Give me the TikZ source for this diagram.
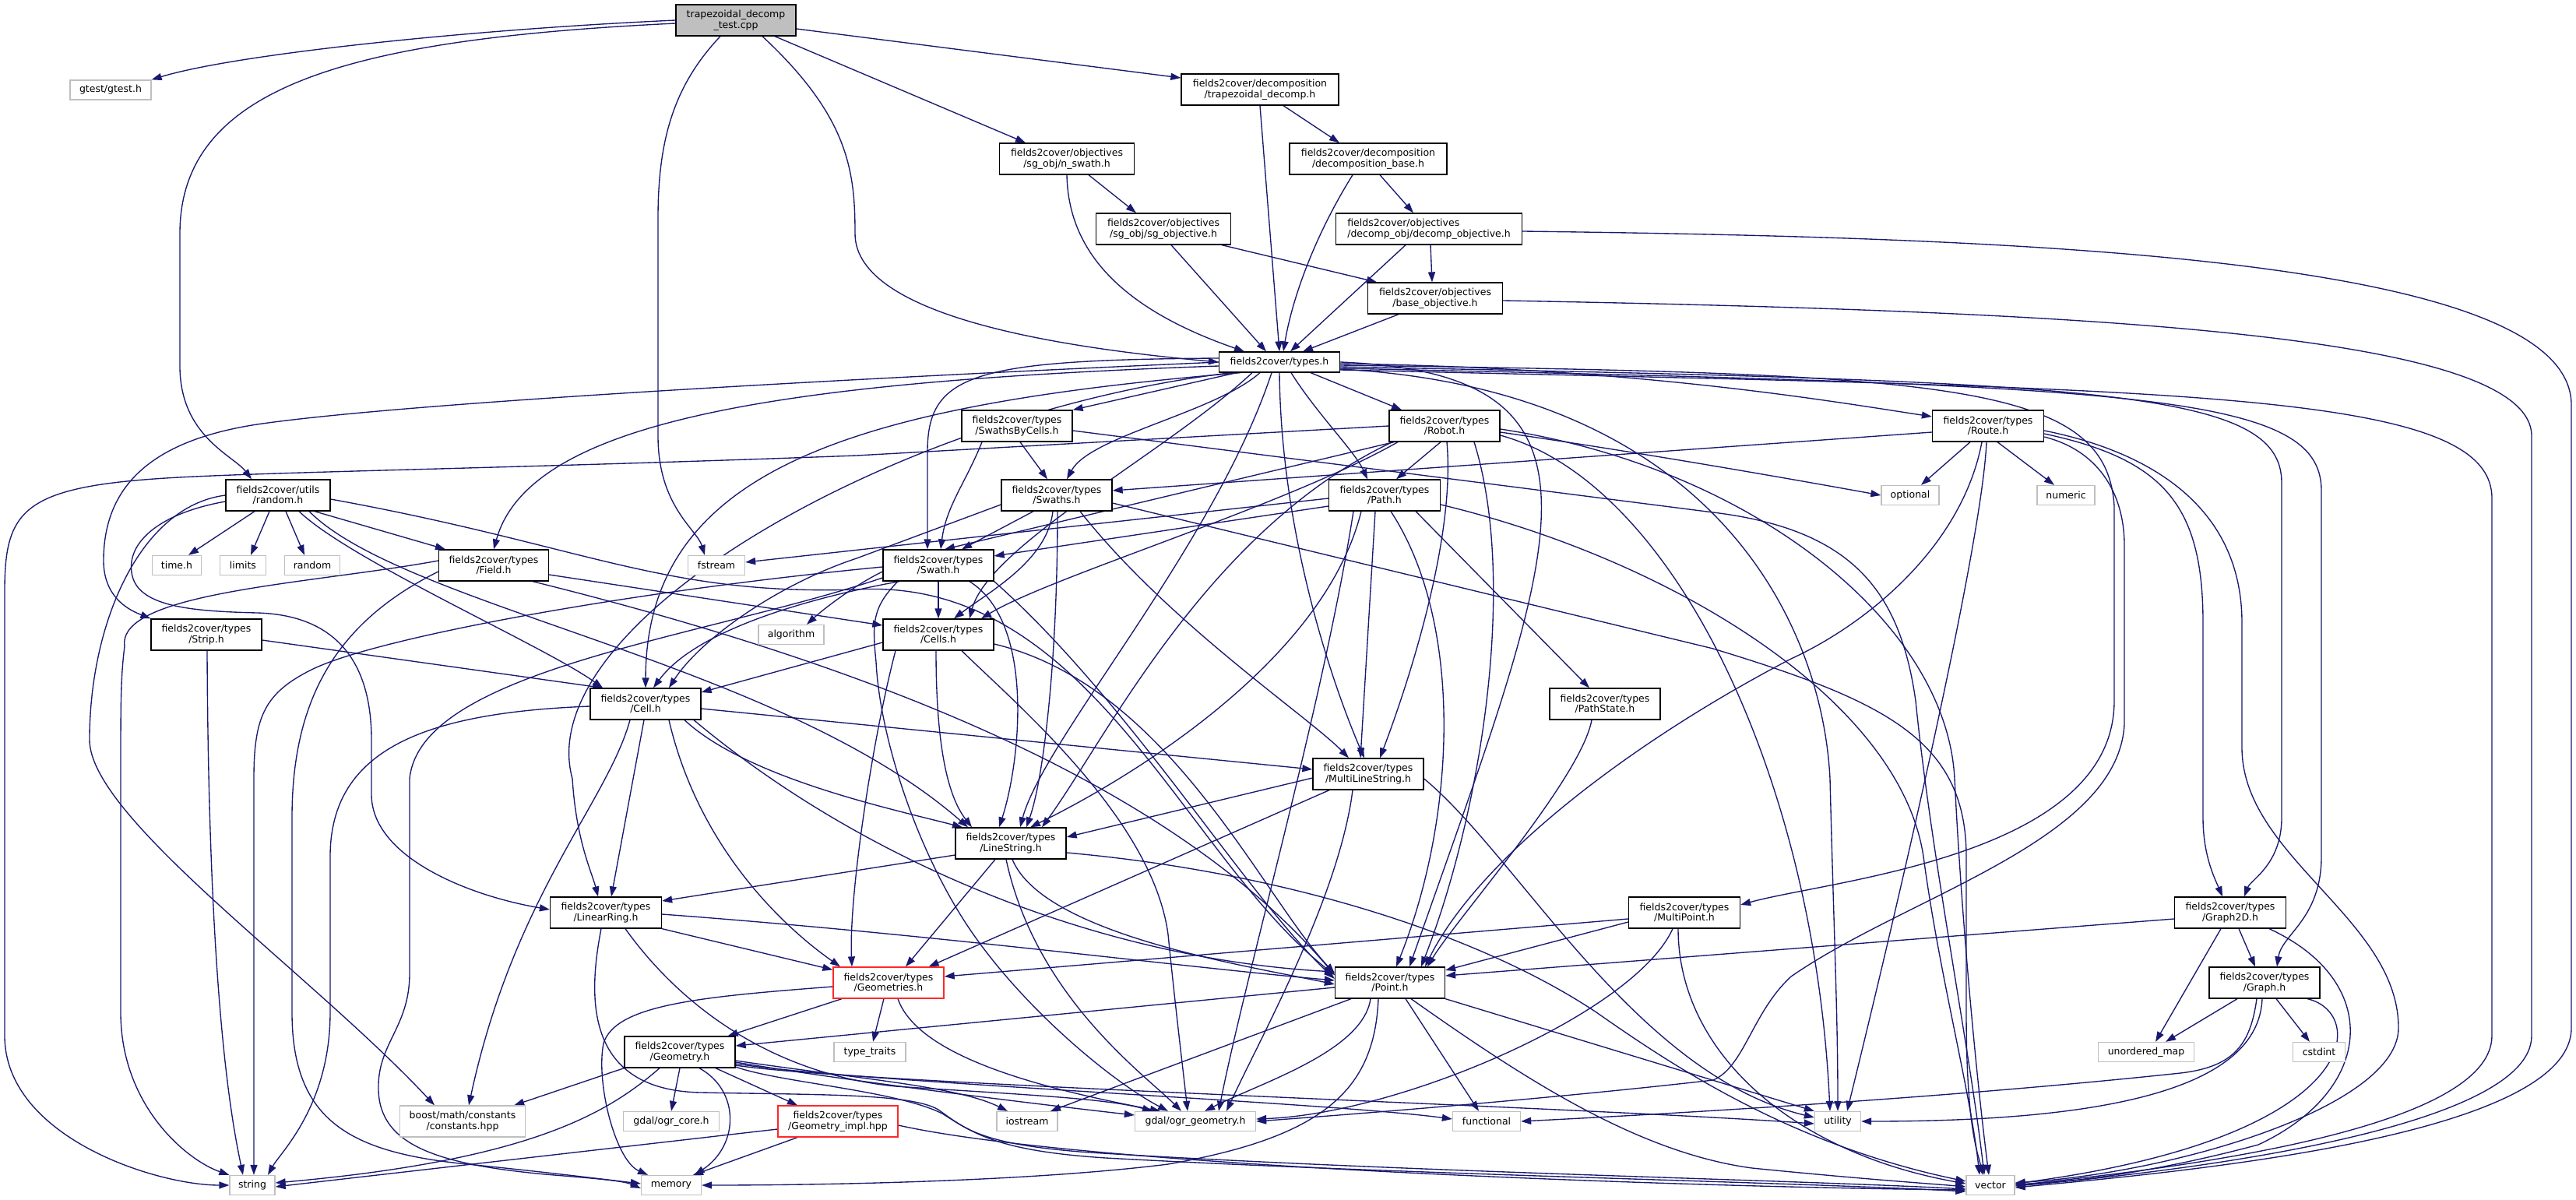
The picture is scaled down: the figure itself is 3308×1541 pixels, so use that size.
\documentclass[tikz,border=0pt]{standalone}
\usepackage{fontspec}
\setmainfont{DejaVu Sans}
\usetikzlibrary{arrows.meta}
\definecolor{eblue}{RGB}{25,25,112}
\definecolor{sysgray}{RGB}{191,191,191}
\definecolor{rootfill}{RGB}{191,191,191}
\definecolor{redb}{RGB}{255,40,40}
\pgfdeclarelayer{bg}
\pgfsetlayers{bg,main}
\tikzset{
  hdr/.style={draw=black, fill=white, line width=1.3pt, inner sep=0pt, align=center,
    font=\fontsize{12.5}{13.5}\selectfont, minimum width=142pt, minimum height=40pt},
  sys/.style={draw=sysgray, fill=white, line width=1.3pt, inner sep=0pt, align=center,
    font=\fontsize{12.5}{13.5}\selectfont, minimum height=25pt},
  redh/.style={hdr, draw=redb},
  edg/.style={draw=eblue, line width=1.35pt, -{Triangle[length=13pt,width=9pt]}},
}
\begin{document}
\begin{tikzpicture}[x=1pt,y=-1pt]
\useasboundingbox (0,0) rectangle (3308,1541);
% ---------------- nodes
\node[hdr, fill=rootfill, minimum width=154pt] (test) at (945,26) {trapezoidal\_decomp\\\_test.cpp};
\node[sys, minimum width=104pt] (gtest) at (142,115.5) {gtest/gtest.h};
\node[hdr, minimum width=202pt] (trap) at (1618,115) {fields2cover/decomposition\\/trapezoidal\_decomp.h};
\node[hdr, minimum width=173pt] (nswath) at (1370,204) {fields2cover/objectives\\/sg\_obj/n\_swath.h};
\node[hdr, minimum width=202pt] (dbase) at (1757,204) {fields2cover/decomposition\\/decomposition\_base.h};
\node[hdr, minimum width=173pt] (sgobj) at (1494,294) {fields2cover/objectives\\/sg\_obj/sg\_objective.h};
\node[hdr, minimum width=239pt, align=left] (dobj) at (1835,294) {fields2cover/objectives\\/decomp\_obj/decomp\_objective.h};
\node[hdr, minimum width=173pt] (bobj) at (1843,383) {fields2cover/objectives\\/base\_objective.h};
\node[hdr, minimum width=155pt, minimum height=26pt] (types) at (1643,465) {fields2cover/types.h};
\node[hdr, minimum width=134pt] (randomh) at (357,636) {fields2cover/utils\\/random.h};
\node[sys, minimum width=63pt] (timeh) at (227,726) {time.h};
\node[sys, minimum width=59pt] (limits) at (312,726) {limits};
\node[sys, minimum width=71pt] (randomstd) at (401,726) {random};
\node[hdr, minimum width=141pt] (field) at (634,726) {fields2cover/types\\/Field.h};
\node[sys, minimum width=73pt] (fstream) at (920,726) {fstream};
\node[hdr] (strip) at (265,815) {fields2cover/types\\/Strip.h};
\node[sys, minimum width=84pt] (algorithm) at (1016,815) {algorithm};
\node[hdr] (cell) at (829,904) {fields2cover/types\\/Cell.h};
\node[hdr] (sbc) at (1306,547) {fields2cover/types\\/SwathsByCells.h};
\node[hdr] (robot) at (1855,547) {fields2cover/types\\/Robot.h};
\node[hdr, minimum width=143pt] (route) at (2553,547) {fields2cover/types\\/Route.h};
\node[sys, minimum width=74pt] (optional) at (2453,636) {optional};
\node[sys, minimum width=74pt] (numeric) at (2653,636) {numeric};
\node[hdr] (swaths) at (1357,636) {fields2cover/types\\/Swaths.h};
\node[hdr, minimum width=143pt] (path) at (1778,636) {fields2cover/types\\/Path.h};
\node[hdr] (swath) at (1205,726) {fields2cover/types\\/Swath.h};
\node[hdr] (cells) at (1205,815) {fields2cover/types\\/Cells.h};
\node[hdr] (pathstate) at (2061,904) {fields2cover/types\\/PathState.h};
\node[hdr] (mls) at (1757,994) {fields2cover/types\\/MultiLineString.h};
\node[hdr, minimum width=143pt] (linearring) at (778,1172) {fields2cover/types\\/LinearRing.h};
\node[hdr] (linestring) at (1298,1083) {fields2cover/types\\/LineString.h};
\node[hdr, minimum width=143pt] (multipoint) at (2163,1172) {fields2cover/types\\/MultiPoint.h};
\node[hdr, minimum width=143pt] (graph2d) at (2864,1172) {fields2cover/types\\/Graph2D.h};
\node[redh] (geometries) at (1141,1262) {fields2cover/types\\/Geometries.h};
\node[hdr, minimum width=141pt] (point) at (1785,1262) {fields2cover/types\\/Point.h};
\node[hdr] (graph) at (2908,1262) {fields2cover/types\\/Graph.h};
\node[hdr] (geometry) at (873,1351) {fields2cover/types\\/Geometry.h};
\node[sys, minimum width=92pt] (typetraits) at (1117,1351) {type\_traits};
\node[sys, minimum width=123pt] (unorderedmap) at (2756,1351) {unordered\_map};
\node[sys, minimum width=67pt] (cstdint) at (2978,1351) {cstdint};
\node[sys, minimum width=161pt, minimum height=40pt] (boost) at (594,1440) {boost/math/constants\\/constants.hpp};
\node[sys, minimum width=123pt] (ogrcore) at (862,1440) {gdal/ogr\_core.h};
\node[redh, minimum width=154pt] (geomimpl) at (1076,1440) {fields2cover/types\\/Geometry\_impl.hpp};
\node[sys, minimum width=78pt] (iostream) at (1319,1440) {iostream};
\node[sys, minimum width=155pt] (ogrgeom) at (1535,1440) {gdal/ogr\_geometry.h};
\node[sys, minimum width=87pt] (functional) at (1909,1440) {functional};
\node[sys, minimum width=59pt] (utility) at (2360,1440) {utility};
\node[sys, minimum width=58pt] (string) at (324,1522) {string};
\node[sys, minimum width=77pt] (memory) at (862,1522) {memory};
\node[sys, minimum width=62pt] (vector) at (2556,1522) {vector};
% ---------------- edges
\begin{pgfonlayer}{bg}
\fill[white] (0,0) rectangle (3308,1541);
% test
\draw[edg] (test.west) .. controls (600,38) and (300,70) .. (gtest.north east);
\draw[edg] ([yshift=-4pt]test.west) .. controls (450,50) and (231,110) .. (231,300) -- (231,470) .. controls (231,560) and (300,585) .. ([xshift=-34pt]randomh.north);
\draw[edg] ([xshift=-20pt]test.south) .. controls (865,110) and (845,180) .. (845,280) -- (845,560) .. controls (845,650) and (895,680) .. ([xshift=-15pt]fstream.north);
\draw[edg] ([xshift=34pt]test.south) .. controls (1090,150) and (1098,220) .. (1098,300) .. controls (1098,410) and (1380,448) .. (types.west);
\draw[edg] ([xshift=50pt]test.south) -- ([xshift=-53pt]nswath.north);
\draw[edg] ([yshift=-11pt]test.east) -- ([yshift=15pt]trap.west);
% objectives / decomposition
\draw[edg] ([xshift=30pt]trap.south) -- ([xshift=-37pt]dbase.north);
\draw[edg] (trap.south) -- (types.north);
\draw[edg] ([xshift=28pt]nswath.south) -- ([xshift=-35pt]sgobj.north);
\draw[edg] (nswath.south) .. controls (1372,330) and (1450,400) .. ([xshift=-45pt]types.north);
\draw[edg] ([xshift=75pt]sgobj.south) -- ([xshift=-75pt]bobj.north);
\draw[edg] ([xshift=10pt]sgobj.south) -- ([xshift=-17pt]types.north);
\draw[edg] ([xshift=15pt]dbase.south) -- ([xshift=-20pt]dobj.north);
\draw[edg] ([xshift=-20pt]dbase.south) .. controls (1690,300) and (1660,380) .. ([xshift=5pt]types.north);
\draw[edg] ([xshift=2pt]dobj.south) -- ([xshift=-4pt]bobj.north);
\draw[edg] ([xshift=-30pt]dobj.south) -- ([xshift=14pt]types.north);
\draw[edg] ([yshift=-3pt]dobj.east) .. controls (2600,305) and (3302,330) .. (3302,520) -- (3302,1320) .. controls (3302,1460) and (2800,1505) .. ([yshift=-3pt]vector.east);
\draw[edg] ([xshift=-47pt]bobj.south) -- ([xshift=30pt]types.north);
\draw[edg] ([yshift=-3pt]bobj.east) .. controls (2700,400) and (3251,430) .. (3251,560) -- (3251,1330) .. controls (3251,1450) and (2800,1505) .. ([yshift=-1pt]vector.east);
% types.h
\draw[edg] (types.west) .. controls (1000,490) and (500,520) .. (330,545) .. controls (200,565) and (133,620) .. (133,720) .. controls (133,770) and (170,785) .. (strip.north west);
\draw[edg] ([yshift=-5pt]types.west) .. controls (1000,490) and (680,540) .. (field.north);
\draw[edg] ([xshift=-50pt]types.south) .. controls (1100,520) and (830,600) .. (cell.north);
\draw[edg] ([xshift=-35pt]types.south) .. controls (1500,580) and (1270,700) .. ([xshift=40pt]cells.north);
\draw[edg] ([yshift=5pt]types.west) .. controls (1250,462) and (1191,480) .. (1191,580) -- ([xshift=-14pt]swath.north);
\draw[edg] ([xshift=-25pt]types.south) .. controls (1560,530) and (1400,560) .. ([xshift=13pt]swaths.north);
\draw[edg] ([xshift=-55pt]types.south) -- (sbc.north east);
\draw[edg] ([xshift=40pt]types.south) -- ([xshift=-55pt]robot.north);
\draw[edg] ([xshift=15pt]types.south) .. controls (1690,530) and (1740,580) .. ([xshift=-22pt]path.north);
\draw[edg] ([yshift=-2pt]types.east) .. controls (2100,472) and (2350,515) .. ([yshift=12pt]route.west);
\draw[edg] ([xshift=-10pt]types.south) .. controls (1560,700) and (1340,950) .. ([xshift=12pt]linestring.north);
\draw[edg] ([xshift=-62pt]types.south) .. controls (1150,530) and (680,800) .. (735,1000) .. controls (740,1080) and (760,1120) .. ([xshift=-10pt]linearring.north);
\draw[edg] (types.south) .. controls (1645,700) and (1720,900) .. ([xshift=-5pt]mls.north);
\draw[edg] (types.east) .. controls (2100,480) and (2000,700) .. ([xshift=25pt]point.north);
\draw[edg] ([yshift=-4pt]types.east) .. controls (2500,480) and (2705,490) .. (2715,650) -- (2715,900) .. controls (2715,1100) and (2350,1130) .. ([yshift=10pt]multipoint.east);
\draw[edg] ([yshift=-6pt]types.east) .. controls (2700,490) and (2930,500) .. (2930,620) -- (2930,1050) .. controls (2930,1110) and (2890,1130) .. ([xshift=18pt]graph2d.north);
\draw[edg] ([yshift=-8pt]types.east) .. controls (2750,495) and (2981,505) .. (2981,630) -- (2981,1100) .. controls (2981,1180) and (2930,1200) .. ([xshift=16pt]graph.north);
\draw[edg] ([yshift=-10pt]types.east) .. controls (2800,500) and (3200,500) .. (3200,640) -- (3200,1330) .. controls (3200,1450) and (2800,1500) .. (vector.east);
\draw[edg] ([yshift=-9pt]types.east) .. controls (2200,500) and (2340,800) .. (2350,1000) .. controls (2355,1200) and (2360,1300) .. (utility.north);
% random.h
\draw[edg] ([xshift=-30pt]randomh.south) -- ([xshift=15pt]timeh.north);
\draw[edg] ([xshift=-11pt]randomh.south) -- ([xshift=10pt]limits.north);
\draw[edg] ([xshift=10pt]randomh.south) -- ([xshift=-10pt]randomstd.north);
\draw[edg] ([xshift=47pt]randomh.south) -- ([xshift=-62pt]field.north);
\draw[edg] ([xshift=27pt]randomh.south) .. controls (450,720) and (700,830) .. ([xshift=-55pt]cell.north);
\draw[edg] ([xshift=40pt]randomh.south) .. controls (520,780) and (1000,850) .. ([xshift=-55pt]linestring.north);
\draw[edg] ([yshift=-5pt]randomh.east) .. controls (750,700) and (850,765) .. (1100,757) .. controls (1400,740) and (1520,1100) .. ([yshift=10pt]point.west);
\draw[edg] (randomh.west) .. controls (180,650) and (115,800) .. (115,950) .. controls (115,1050) and (400,1250) .. ([xshift=-36pt]boost.north);
\draw[edg] ([yshift=-8pt]randomh.west) .. controls (200,660) and (160,700) .. (170,740) .. controls (180,780) and (250,785) .. (330,787) .. controls (440,790) and (477,860) .. (477,950) -- (477,1020) .. controls (477,1100) and (600,1150) .. ([yshift=4pt]linearring.west);
% Field.h
\draw[edg] ([yshift=6pt]field.west) .. controls (400,750) and (150,760) .. (160,830) .. controls (155,870) and (155,900) .. (155,1000) -- (155,1300) .. controls (155,1420) and (240,1490) .. (string.north west);
\draw[edg] ([yshift=-8pt]field.west) .. controls (430,800) and (375,900) .. (375,1050) -- (375,1300) .. controls (375,1440) and (450,1480) .. (600,1495) .. controls (700,1505) and (780,1515) .. ([yshift=2pt]memory.west);
\draw[edg] ([yshift=-12pt]field.east) -- ([yshift=12pt]cells.west);
\draw[edg] ([xshift=50pt]field.south) .. controls (1100,850) and (1500,1000) .. ([yshift=10pt]point.west);
% Strip.h
\draw[edg] ([yshift=-7pt]strip.east) -- ([xshift=-55pt]cell.north);
\draw[edg] ([xshift=1pt]strip.south) .. controls (268,1300) and (300,1450) .. ([xshift=-12pt]string.north);
% SwathsByCells.h
\draw[edg] ([xshift=4pt]sbc.south) -- ([xshift=-12pt]swaths.north);
\draw[edg] ([xshift=-45pt]sbc.south) .. controls (1240,620) and (1215,650) .. ([xshift=3pt]swath.north);
\draw[edg] ([yshift=-6pt]sbc.east) -- (2200,658) .. controls (2380,680) and (2440,760) .. (2460,900) .. controls (2480,1100) and (2530,1350) .. ([xshift=-8pt]vector.north);
% Robot.h
\draw[edg] (robot.west) -- (1100,585) .. controls (700,600) and (400,605) .. (250,612) .. controls (30,622) and (6,650) .. (6,760) -- (6,1330) .. controls (6,1460) and (200,1522) .. (string.west);
\draw[edg] ([yshift=-8pt]robot.east) .. controls (2100,580) and (2300,615) .. (optional.west);
\draw[edg] ([xshift=-5pt]robot.south) -- ([xshift=15pt]path.north);
\draw[edg] ([xshift=-65pt]robot.south) -- ([xshift=8pt]swath.north);
\draw[edg] ([xshift=-60pt]robot.south) .. controls (1650,650) and (1350,740) .. ([xshift=55pt]cells.north);
\draw[edg] ([xshift=-67pt]robot.south) .. controls (1550,680) and (1420,950) .. ([xshift=40pt]linestring.north);
\draw[edg] ([xshift=3pt]robot.south) .. controls (1870,700) and (1800,900) .. ([xshift=15pt]mls.north);
\draw[edg] ([xshift=38pt]robot.south) .. controls (1950,750) and (1900,1050) .. ([xshift=40pt]point.north);
\draw[edg] ([yshift=-12pt]robot.east) .. controls (2150,620) and (2330,1000) .. ([xshift=-10pt]utility.north);
\draw[edg] ([yshift=-4pt]robot.east) .. controls (2250,600) and (2500,800) .. (2510,1000) .. controls (2520,1200) and (2540,1400) .. ([xshift=-2pt]vector.north);
% Route.h
\draw[edg] ([yshift=-8pt]route.west) -- ([yshift=6pt]swaths.east);
\draw[edg] ([xshift=-23pt]route.south) -- ([xshift=14pt]optional.north);
\draw[edg] ([xshift=12pt]route.south) -- ([xshift=-15pt]numeric.north);
\draw[edg] ([xshift=-2pt]route.south) .. controls (2545,700) and (2440,1150) .. ([xshift=12pt]utility.north);
\draw[edg] ([xshift=-8pt]route.south) .. controls (2520,700) and (2400,800) .. (2300,846) .. controls (2100,950) and (1900,1100) .. ([xshift=45pt]point.north);
\draw[edg] ([yshift=-10pt]route.east) .. controls (2780,590) and (2829,650) .. (2829,800) -- (2829,1050) .. controls (2829,1100) and (2845,1130) .. ([xshift=-10pt]graph2d.north);
\draw[edg] ([yshift=-6pt]route.east) .. controls (2760,580) and (2879,650) .. (2879,800) -- (2879,960) .. controls (2879,1100) and (3080,1180) .. (3080,1320) .. controls (3080,1420) and (2800,1505) .. ([yshift=3pt]vector.east);
\draw[edg] ([yshift=-14pt]route.east) .. controls (2700,580) and (2728,640) .. (2728,700) -- (2728,930) .. controls (2720,1080) and (2450,1150) .. (2300,1254) .. controls (2250,1300) and (2240,1370) .. (2200,1387) .. controls (2000,1410) and (1750,1430) .. (ogrgeom.east);
% Path.h
\draw[edg] ([yshift=-4pt]path.west) -- ([yshift=4pt]fstream.east);
\draw[edg] ([yshift=-14pt]path.west) -- ([yshift=12pt]swath.east);
\draw[edg] ([xshift=40pt]path.south) -- ([xshift=-20pt]pathstate.north);
\draw[edg] ([xshift=-12pt]path.south) -- ([xshift=-10pt]mls.north);
\draw[edg] ([xshift=-30pt]path.south) .. controls (1700,850) and (1450,1000) .. ([xshift=25pt]linestring.north);
\draw[edg] ([xshift=8pt]path.south) .. controls (1880,800) and (1870,1050) .. ([xshift=8pt]point.north);
\draw[edg] ([xshift=-40pt]path.south) .. controls (1700,900) and (1600,1250) .. ([xshift=30pt]ogrgeom.north);
\draw[edg] ([yshift=-12pt]path.east) .. controls (2150,720) and (2440,900) .. (2470,1100) .. controls (2490,1250) and (2530,1400) .. ([xshift=-14pt]vector.north);
% Swaths.h
\draw[edg] ([xshift=-30pt]swaths.south) -- ([xshift=30pt]swath.north);
\draw[edg] ([xshift=-5pt]swaths.south) .. controls (1345,720) and (1270,760) .. ([xshift=20pt]cells.north);
\draw[edg] ([yshift=-12pt]swaths.west) -- (1100,717) .. controls (1000,750) and (900,820) .. ([xshift=30pt]cell.north);
\draw[edg] ([xshift=1pt]swaths.south) .. controls (1358,850) and (1340,1000) .. ([xshift=20pt]linestring.north);
\draw[edg] ([xshift=30pt]swaths.south) .. controls (1500,800) and (1680,920) .. ([xshift=-25pt]mls.north);
\draw[edg] ([yshift=-10pt]swaths.east) -- (2200,833) .. controls (2420,900) and (2525,950) .. (2525,1100) -- (2525,1300) .. controls (2525,1450) and (2540,1480) .. ([xshift=-10pt]vector.north);
% Swath.h
\draw[edg] ([yshift=-8pt]swath.west) .. controls (1100,750) and (1060,780) .. ([xshift=20pt]algorithm.north);
\draw[edg] (swath.south) -- (cells.north);
\draw[edg] ([xshift=-50pt]swath.south) .. controls (1080,760) and (900,800) .. ([xshift=10pt]cell.north);
\draw[edg] ([xshift=40pt]swath.south) .. controls (1330,800) and (1310,980) .. ([xshift=-15pt]linestring.north);
\draw[edg] (swath.south east) .. controls (1450,900) and (1600,1150) .. ([yshift=5pt]point.west);
\draw[edg] ([xshift=-52pt]swath.south) .. controls (1120,780) and (1120,800) .. (1125,850) .. controls (1130,950) and (1180,1100) .. (1250,1200) .. controls (1320,1300) and (1430,1390) .. ([xshift=-35pt]ogrgeom.north);
\draw[edg] ([yshift=-2pt]swath.west) .. controls (800,760) and (480,820) .. (400,860) .. controls (340,890) and (326,920) .. (326,1000) -- (326,1400) -- ([xshift=2pt]string.north);
\draw[edg] ([yshift=-16pt]swath.west) .. controls (900,820) and (540,860) .. (526,1000) -- (526,1250) .. controls (526,1320) and (484,1340) .. (486,1400) .. controls (488,1470) and (560,1495) .. (700,1508) .. controls (760,1513) and (800,1516) .. ([yshift=-4pt]memory.west);
% Cells.h
\draw[edg] ([yshift=-10pt]cells.west) -- ([yshift=15pt]cell.east);
\draw[edg] ([xshift=-3pt]cells.south) .. controls (1202,950) and (1215,1020) .. ([xshift=-50pt]linestring.north);
\draw[edg] ([xshift=-55pt]cells.south) .. controls (1120,950) and (1090,1150) .. ([xshift=-47pt]geometries.north);
\draw[edg] ([yshift=-12pt]cells.east) .. controls (1500,880) and (1620,1150) .. ([yshift=12pt]point.west);
\draw[edg] ([xshift=30pt]cells.south) .. controls (1300,900) and (1480,1050) .. (1500,1200) .. controls (1510,1300) and (1520,1380) .. ([xshift=-10pt]ogrgeom.north);
% Cell.h
\draw[edg] ([yshift=-3pt]cell.west) .. controls (550,915) and (424,960) .. (424,1100) -- (424,1300) .. controls (424,1420) and (360,1480) .. ([xshift=20pt]string.north);
\draw[edg] ([xshift=-20pt]cell.south) .. controls (780,1030) and (660,1150) .. ([xshift=8pt]boost.north);
\draw[edg] ([xshift=-2pt]cell.south) -- ([xshift=7pt]linearring.north);
\draw[edg] ([xshift=30pt]cell.south) .. controls (900,1100) and (1020,1200) .. ([xshift=-62pt]geometries.north);
\draw[edg] ([xshift=50pt]cell.south) .. controls (960,1000) and (1150,1040) .. ([xshift=-62pt]linestring.north);
\draw[edg] ([xshift=62pt]cell.south) .. controls (1100,1100) and (1400,1230) .. ([yshift=14pt]point.west);
\draw[edg] ([yshift=-6pt]cell.east) -- ([yshift=6pt]mls.west);
% PathState.h
\draw[edg] ([xshift=-17pt]pathstate.south) .. controls (2030,1000) and (1870,1180) .. ([xshift=48pt]point.north);
% MultiLineString.h
\draw[edg] ([yshift=-5pt]mls.west) -- ([yshift=8pt]linestring.east);
\draw[edg] ([xshift=-50pt]mls.south) -- ([xshift=-20pt]geometries.north east);
\draw[edg] ([xshift=-20pt]mls.south) .. controls (1720,1150) and (1620,1330) .. ([xshift=40pt]ogrgeom.north);
\draw[edg] ([yshift=-6pt]mls.east) .. controls (1950,1100) and (2100,1380) .. ([yshift=5pt]utility.west);
% LineString.h
\draw[edg] ([yshift=-15pt]linestring.west) -- ([yshift=15pt]linearring.east);
\draw[edg] ([xshift=-20pt]linestring.south) -- ([xshift=22pt]geometries.north);
\draw[edg] ([xshift=2pt]linestring.south) .. controls (1340,1200) and (1600,1240) .. ([yshift=-2pt]point.west);
\draw[edg] ([xshift=-6pt]linestring.south) .. controls (1330,1280) and (1470,1380) .. ([xshift=-18pt]ogrgeom.north);
\draw[edg] ([yshift=-12pt]linestring.east) .. controls (1650,1120) and (1900,1200) .. (2050,1300) .. controls (2150,1370) and (2300,1470) .. ([yshift=5pt]vector.west);
% LinearRing.h
\draw[edg] (linearring.south east) -- ([yshift=-4pt]geometries.north west);
\draw[edg] ([yshift=-2pt]linearring.east) .. controls (1200,1200) and (1500,1240) .. ([yshift=3pt]point.west);
\draw[edg] ([xshift=25pt]linearring.south) .. controls (880,1300) and (1000,1380) .. (1150,1395) .. controls (1300,1405) and (1420,1410) .. ([xshift=-55pt]ogrgeom.north);
\draw[edg] ([xshift=-6pt]linearring.south) .. controls (755,1280) and (750,1400) .. (900,1403) .. controls (1050,1406) and (1170,1404) .. (1205,1425) .. controls (1240,1450) and (1260,1470) .. (1400,1480) .. controls (1800,1505) and (2300,1515) .. ([yshift=-5pt]vector.west);
% MultiPoint.h
\draw[edg] ([yshift=-8pt]multipoint.west) -- ([yshift=8pt]geometries.east);
\draw[edg] ([yshift=-12pt]multipoint.west) -- ([yshift=16pt]point.east);
\draw[edg] ([xshift=-15pt]multipoint.south) .. controls (2100,1300) and (1800,1430) .. ([yshift=3pt]ogrgeom.east);
\draw[edg] ([xshift=-8pt]multipoint.south) .. controls (2155,1350) and (2300,1480) .. ([yshift=2pt]vector.west);
% Geometries.h
\draw[edg] ([xshift=-60pt]geometries.south) -- ([xshift=-10pt]geometry.north east);
\draw[edg] ([yshift=-5pt]geometries.west) .. controls (900,1280) and (790,1290) .. (775,1340) .. controls (765,1390) and (790,1490) .. ([xshift=-30pt]memory.north);
\draw[edg] ([xshift=-6pt]geometries.south) -- ([xshift=4pt]typetraits.north);
\draw[edg] ([xshift=12pt]geometries.south) .. controls (1180,1360) and (1350,1400) .. ([xshift=-45pt]ogrgeom.north);
% Point.h
\draw[edg] ([yshift=-6pt]point.west) -- ([yshift=8pt]geometry.east);
\draw[edg] ([xshift=-50pt]point.south) -- ([xshift=30pt]iostream.north);
\draw[edg] ([xshift=-25pt]point.south) .. controls (1750,1350) and (1620,1390) .. ([xshift=12pt]ogrgeom.north);
\draw[edg] ([xshift=-15pt]point.south) .. controls (1765,1400) and (1700,1460) .. (1500,1495) .. controls (1300,1520) and (1000,1522) .. (memory.east);
\draw[edg] ([xshift=20pt]point.south) -- ([xshift=-10pt]functional.north);
\draw[edg] (point.south east) -- (utility.north west);
\draw[edg] ([xshift=27pt]point.south) .. controls (1950,1380) and (2100,1480) .. (2250,1500) .. controls (2400,1515) and (2480,1520) .. ([yshift=-2pt]vector.west);
% Graph2D.h
\draw[edg] ([yshift=-8pt]graph2d.west) -- ([yshift=9pt]point.east);
\draw[edg] ([xshift=-12pt]graph2d.south) -- ([xshift=12pt]unorderedmap.north);
\draw[edg] ([xshift=11pt]graph2d.south) -- ([xshift=-12pt]graph.north);
\draw[edg] ([xshift=50pt]graph2d.south) .. controls (3060,1260) and (3050,1400) .. (2900,1470) .. controls (2750,1510) and (2650,1518) .. ([yshift=1pt]vector.east);
% Graph.h
\draw[edg] ([xshift=-35pt]graph.south) -- ([xshift=25pt]unorderedmap.north);
\draw[edg] ([xshift=15pt]graph.south) -- ([xshift=-12pt]cstdint.north);
\draw[edg] ([xshift=-10pt]graph.south) .. controls (2890,1340) and (2870,1370) .. (2800,1378) .. controls (2500,1410) and (2150,1430) .. (functional.east);
\draw[edg] ([xshift=-3pt]graph.south) .. controls (2900,1400) and (2700,1440) .. (utility.east);
\draw[edg] ([xshift=55pt]graph.south) .. controls (3040,1300) and (3040,1460) .. ([yshift=2pt]vector.east);
% Geometry.h
\draw[edg] (geometry.south west) -- ([xshift=-15pt]boost.north east);
\draw[edg] (geometry.south) -- (ogrcore.north);
\draw[edg] ([xshift=-26pt]geometry.south) .. controls (780,1430) and (680,1490) .. ([yshift=3pt]string.east);
\draw[edg] ([xshift=25pt]geometry.south) .. controls (950,1400) and (950,1470) .. ([xshift=30pt]memory.north);
\draw[edg] ([xshift=46pt]geometry.south) -- ([xshift=-52pt]geomimpl.north);
\draw[edg] ([yshift=-11pt]geometry.east) .. controls (1100,1385) and (1230,1395) .. ([xshift=-25pt]iostream.north);
\draw[edg] ([yshift=-13pt]geometry.east) .. controls (1100,1390) and (1350,1420) .. ([yshift=8pt]ogrgeom.west);
\draw[edg] ([yshift=-15pt]geometry.east) .. controls (1100,1390) and (1700,1415) .. ([yshift=3pt]functional.west);
\draw[edg] ([yshift=-17pt]geometry.east) .. controls (1100,1392) and (2000,1420) .. ([yshift=-3pt]utility.west);
\draw[edg] ([yshift=-19pt]geometry.east) .. controls (1000,1390) and (1150,1400) .. (1210,1430) .. controls (1250,1455) and (1280,1478) .. (1420,1487) .. controls (1800,1508) and (2300,1518) .. ([yshift=-8pt]vector.west);
% Geometry_impl.hpp
\draw[edg] ([yshift=-10pt]geomimpl.west) -- ([yshift=-2pt]string.east);
\draw[edg] ([xshift=-52pt]geomimpl.south) -- ([xshift=28pt]memory.north);
\draw[edg] ([yshift=-5pt]geomimpl.east) .. controls (1400,1500) and (2200,1525) .. ([yshift=-6pt]vector.west);
\end{pgfonlayer}
\end{tikzpicture}
\end{document}
